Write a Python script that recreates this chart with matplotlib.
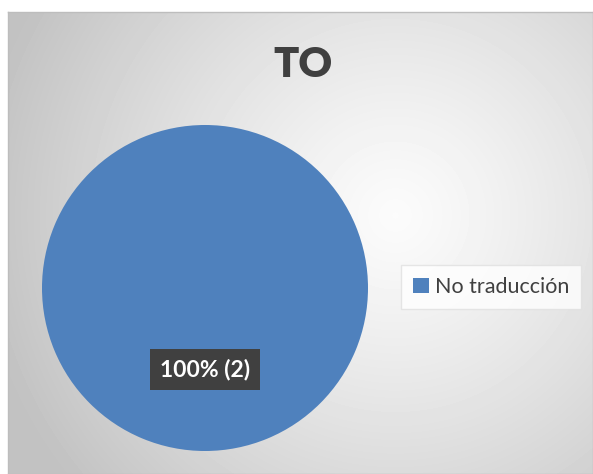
import numpy as np
import matplotlib.pyplot as plt
from matplotlib.patches import Patch

# data
categories = ["No traducción"]
counts = [2]
title = "TO"
blue = "#4F81BD"

W, H = 593, 474
fig = plt.figure(figsize=(W / 100, H / 100), dpi=100)
fig.patch.set_facecolor("white")

# chart area with radial gradient background
x0, y0 = 8, 12
bg = fig.add_axes([x0 / W, 0, (W - x0) / W, (H - y0) / H])
h, w = H - y0, W - x0
yy, xx = np.mgrid[0:h, 0:w]
cx, cy = 395 - x0, 215 - y0
d = np.hypot(xx - cx, yy - cy) / 420
d = np.clip(d, 0, 1)
lo, hi = 0.76, 0.985
grad = hi - (hi - lo) * d ** 1.2
bg.imshow(grad, cmap="gray", vmin=0, vmax=1, aspect="auto",
          extent=[0, w, h, 0], interpolation="bilinear")
bg.set_xticks([])
bg.set_yticks([])
for s in bg.spines.values():
    s.set_color("#bdbdbd")
    s.set_linewidth(1.0)

# pie
pcx, pcy, r = 205, 288, 163
ax = fig.add_axes([(pcx - r) / W, (H - pcy - r) / H, 2 * r / W, 2 * r / H])
ax.set_facecolor("none")
wedges, texts, autotexts = ax.pie(
    counts, colors=[blue], startangle=90, radius=1,
    autopct=lambda p: f"{p:.0f}% ({counts[0]})", pctdistance=0.5,
    wedgeprops=dict(linewidth=0),
)
for t in autotexts:
    t.set_color("white")
    t.set_fontsize(16.5)
    t.set_fontweight("bold")
    t.set_family("Lato")
    t.set_bbox(dict(boxstyle="square,pad=0.42", facecolor="#404040",
                    edgecolor="none"))
ax.set_xlim(-1, 1)
ax.set_ylim(-1, 1)
ax.set_aspect("equal")
ax.axis("off")

fig.text(303 / W, 1 - 65 / H, title, ha="center", va="center",
         fontsize=30, fontweight="heavy", color="#404040", family="Lato")

handles = [Patch(facecolor=blue, edgecolor="none") for _ in categories]
leg = fig.legend(handles, categories, loc="center",
                 bbox_to_anchor=(491 / W, 1 - 287 / H),
                 frameon=True, fancybox=False,
                 handlelength=0.75, handleheight=0.75, handletextpad=0.3,
                 borderpad=0.55, prop={"family": "Lato", "size": 15.5})
leg.get_frame().set_facecolor("white")
leg.get_frame().set_edgecolor("#e0e0e0")
for t in leg.get_texts():
    t.set_color("#404040")

fig.savefig("out.png", dpi=100)
